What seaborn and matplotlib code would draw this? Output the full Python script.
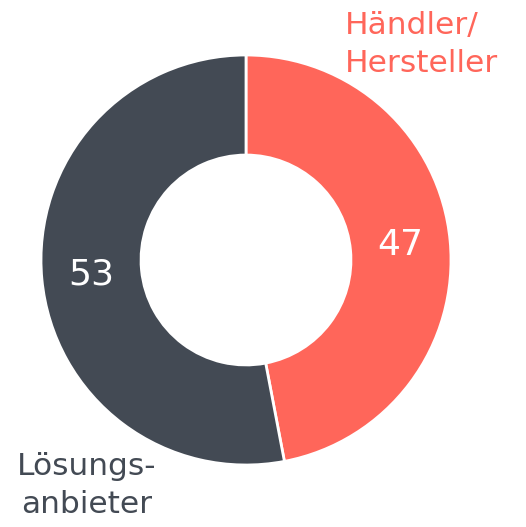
import matplotlib
matplotlib.use('Agg')
import matplotlib.pyplot as plt
import seaborn as sns

sns.set_style('white')
plt.rcParams['font.family'] = ['DejaVu Sans']

labels = ['Händler/\nHersteller', 'Lösungs-\nanbieter']
values = [47, 53]
colors = ['#FF665A', '#434A54']

fig = plt.figure(figsize=(5.26, 5.27), dpi=100)
# donut centred at (246, 260) px, outer radius 205 px
ax = fig.add_axes([(246 - 205) / 526, (527 - 465) / 527, 410 / 526, 410 / 527])

total = sum(values)
wedges, texts, autotexts = ax.pie(
    values, colors=colors, startangle=90, counterclock=False, radius=1,
    wedgeprops=dict(width=0.488, edgecolor='white', linewidth=2),
    autopct=lambda p: f'{round(p * total / 100):d}', pctdistance=0.756,
    textprops=dict(color='white', fontsize=26))
ax.set_xlim(-1, 1)
ax.set_ylim(-1, 1)
ax.set_aspect('equal')
ax.axis('off')

fig.text(345 / 526, 1 - 11 / 527, labels[0], color=colors[0], fontsize=22.5,
         ha='left', va='top', multialignment='left', linespacing=1.38)
fig.text(87 / 526, 1 - 452 / 527, labels[1], color=colors[1], fontsize=22.5,
         ha='center', va='top', multialignment='center', linespacing=1.38)

fig.savefig('out.png', dpi=100, facecolor='white')
